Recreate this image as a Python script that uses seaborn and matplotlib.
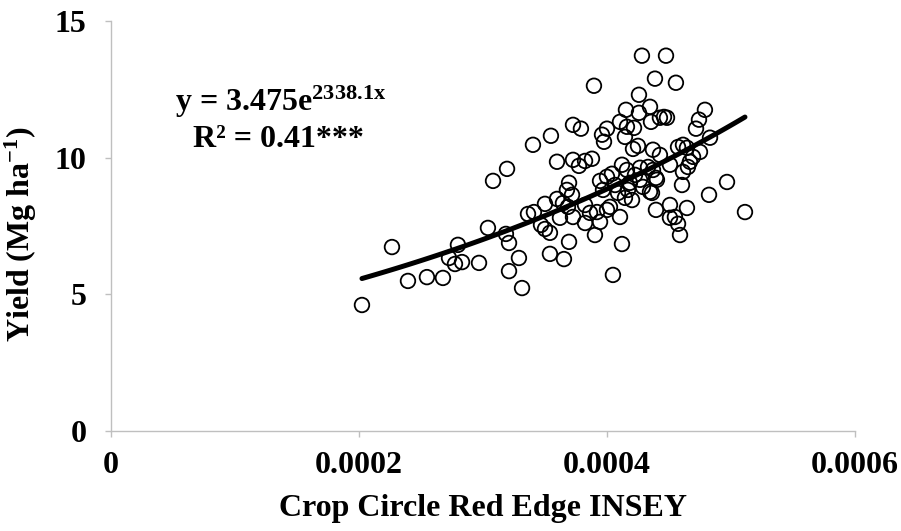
import numpy as np
import pandas as pd
import matplotlib
matplotlib.use("Agg")
import matplotlib.pyplot as plt
import seaborn as sns

# INSEY values (x 1e-4) and grain yield (Mg/ha)
insey_e4 = [2.024, 2.266, 2.395, 2.548, 2.677, 2.798, 2.726, 2.774, 2.831, 2.968,
            3.040, 3.081, 3.194, 3.185, 3.210, 3.290, 3.210, 3.315, 3.363, 3.411,
            3.403, 3.468, 3.500, 3.540, 3.500, 3.597, 3.645, 3.621, 3.540, 3.653,
            3.694, 3.548, 3.597, 3.726, 3.790, 3.726, 3.774, 3.823, 3.879, 3.694,
            3.677, 3.718, 3.685, 3.726, 3.823, 3.863, 3.919, 3.944, 4.000, 4.024,
            4.105, 3.823, 3.903, 3.895, 3.960, 4.000, 3.976, 3.944, 4.000, 4.040,
            4.048, 4.121, 4.282, 4.476, 4.387, 4.556, 4.258, 4.153, 4.258, 4.347,
            4.105, 4.161, 4.218, 4.145, 4.355, 4.427, 4.460, 4.484, 4.210, 4.250,
            4.371, 4.427, 4.121, 4.161, 4.226, 4.266, 4.331, 4.395, 4.089, 4.145,
            4.202, 4.169, 4.290, 4.347, 4.395, 4.403, 4.363, 4.790, 4.742, 4.718,
            4.831, 4.613, 4.573, 4.645, 4.750, 4.694, 4.669, 4.653, 4.613, 4.605,
            4.508, 4.371, 4.508, 4.645, 4.508, 4.548, 4.573, 4.589, 4.823, 4.968,
            5.113, 4.065, 3.968, 4.266, 4.185]
yield_mg = [4.61, 6.73, 5.49, 5.63, 5.60, 6.81, 6.33, 6.11, 6.18, 6.15,
            7.43, 9.15, 9.59, 7.21, 6.88, 6.33, 5.85, 5.23, 7.94, 8.01,
            10.47, 7.54, 7.39, 7.25, 8.31, 8.49, 8.34, 7.80, 6.48, 6.29,
            6.92, 10.80, 9.85, 11.20, 11.06, 9.92, 9.70, 9.88, 9.96, 9.08,
            8.82, 8.64, 8.20, 7.83, 8.27, 7.98, 8.01, 7.65, 8.09, 8.20,
            7.83, 7.61, 7.17, 12.63, 10.84, 11.06, 10.58, 9.15, 9.30, 9.41,
            5.71, 6.84, 13.73, 13.73, 12.89, 12.74, 12.30, 11.75, 11.64, 11.86,
            11.31, 11.13, 11.09, 10.76, 11.31, 11.46, 11.49, 11.46, 10.32, 10.43,
            10.29, 10.10, 9.74, 9.55, 9.37, 9.63, 9.66, 9.26, 8.71, 8.53,
            8.45, 8.82, 8.93, 8.75, 8.09, 9.19, 8.71, 11.75, 11.39, 11.06,
            10.73, 10.47, 10.39, 10.36, 10.21, 10.03, 9.85, 9.66, 9.48, 9.00,
            9.74, 9.55, 8.27, 8.16, 7.80, 7.83, 7.58, 7.17, 8.64, 9.11,
            8.01, 9.00, 8.82, 9.19, 9.08]

# exponential trendline coefficients printed on the chart
fit_a = 3.475
fit_b = 2338.1

df = pd.DataFrame({"insey": np.array(insey_e4) * 1e-4, "yield": yield_mg})
xfit = np.linspace(df["insey"].min(), df["insey"].max(), 100)
fit = pd.DataFrame({"insey": xfit, "yield": fit_a * np.exp(fit_b * xfit)})

sns.set_theme(style="white")
plt.rcParams["font.family"] = ["Liberation Serif", "DejaVu Serif"]
plt.rcParams["font.weight"] = "bold"
plt.rcParams["text.color"] = "black"
plt.rcParams["axes.labelcolor"] = "black"
plt.rcParams["xtick.color"] = "black"
plt.rcParams["ytick.color"] = "black"
plt.rcParams["mathtext.fontset"] = "custom"
plt.rcParams["mathtext.rm"] = "Liberation Serif:bold"
plt.rcParams["mathtext.bf"] = "Liberation Serif:bold"
plt.rcParams["mathtext.it"] = "Liberation Serif:bold"

fs = 23

fig = plt.figure(figsize=(9.01, 5.31), dpi=100)
ax = fig.add_axes([0.1232, 0.1883, 0.8257, 0.7722])

sns.lineplot(data=fit, x="insey", y="yield", ax=ax, color="black", linewidth=3.6,
             solid_capstyle="round", zorder=3)
sns.scatterplot(data=df, x="insey", y="yield", ax=ax, s=110, facecolor="none",
                edgecolor="black", linewidth=1.3, zorder=2)

ax.set_xlim(0, 0.0006)
ax.set_ylim(0, 15)
ax.set_xticks([0, 0.0002, 0.0004, 0.0006])
ax.set_xticklabels(["0", "0.0002", "0.0004", "0.0006"])
ax.set_yticks([0, 5, 10, 15])

for s in ["top", "right"]:
    ax.spines[s].set_visible(False)
for s in ["left", "bottom"]:
    ax.spines[s].set_color("#BFBFBF")
    ax.spines[s].set_linewidth(1.0)
ax.tick_params(axis="both", which="major", direction="out", length=4.5, width=1,
               color="#BFBFBF", labelcolor="black", labelsize=fs,
               bottom=True, left=True)
ax.tick_params(axis="y", pad=13)
ax.tick_params(axis="x", pad=10)
for lab in ax.get_xticklabels() + ax.get_yticklabels():
    lab.set_fontweight("bold")

ax.set_xlabel("Crop Circle Red Edge INSEY", fontsize=fs, fontweight="bold",
              labelpad=10)
ax.set_ylabel(r"Yield (Mg ha$^{-1}$)", fontsize=fs, fontweight="bold")
ax.yaxis.set_label_coords(-0.097, 0.48)

ax.text(0.0000516, 12.05, r"y = 3.475e$^{\mathrm{2338.1x}}$", fontsize=fs,
        fontweight="bold", ha="left", va="center")
ax.text(0.0000661, 10.65, "R² = 0.41***", fontsize=fs, fontweight="bold",
        ha="left", va="center")

fig.savefig("out.png", dpi=100)
